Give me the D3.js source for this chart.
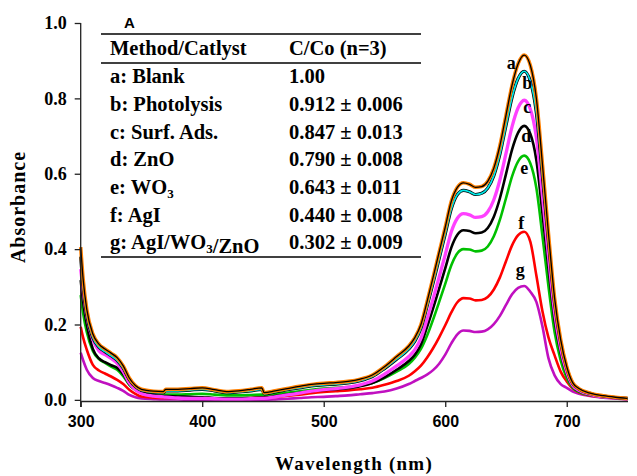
<!DOCTYPE html>
<html>
<head>
<meta charset="utf-8">
<script src="https://cdn.jsdelivr.net/npm/d3@7"></script>
<style>
  html, body { margin: 0; padding: 0; background: #fff; }
  svg { display: block; }
</style>
</head>
<body>
<svg id="chart" width="637" height="476"></svg>
<script>
// ---------------- DATA ----------------
const wavelengths = [300,302,305,310,315,320,325,330,335,340,
  345,350,360,368,370,380,390,400,410,420,
  430,440,449,451,460,470,480,490,500,510,
  520,530,540,550,560,570,575,580,585,590,
  595,600,605,610,615,620,625,630,635,640,
  645,650,655,660,665,670,675,680,685,690,
  695,700,705,710,720,730,740,750];

const seriesA = [0.405,0.32,0.24,0.175,0.148,0.135,0.124,0.112,0.09,0.058,
  0.038,0.028,0.023,0.022,0.028,0.028,0.03,0.032,0.027,0.022,
  0.024,0.028,0.032,0.019,0.024,0.03,0.036,0.041,0.044,0.046,
  0.049,0.055,0.066,0.088,0.115,0.143,0.165,0.2,0.26,0.325,
  0.392,0.458,0.527,0.564,0.576,0.572,0.564,0.566,0.58,0.615,
  0.675,0.755,0.835,0.892,0.915,0.888,0.8,0.625,0.44,0.27,
  0.16,0.088,0.045,0.03,0.017,0.011,0.007,0.004];
const seriesB = [0.38,0.3,0.225,0.165,0.14,0.128,0.117,0.105,0.084,0.054,
  0.035,0.025,0.02,0.019,0.024,0.024,0.026,0.028,0.024,0.019,
  0.021,0.024,0.028,0.016,0.021,0.027,0.032,0.037,0.04,0.042,
  0.045,0.051,0.062,0.083,0.108,0.135,0.156,0.19,0.248,0.31,
  0.375,0.44,0.507,0.545,0.556,0.552,0.545,0.548,0.562,0.595,
  0.652,0.728,0.803,0.853,0.872,0.846,0.762,0.594,0.418,0.256,
  0.152,0.084,0.043,0.029,0.016,0.01,0.006,0.004];
const seriesC = [0.347,0.29,0.222,0.16,0.13,0.12,0.11,0.097,0.075,0.045,
  0.027,0.017,0.01,0.008,0.007,0.005,0.004,0.004,0.003,0.002,
  0.002,0.003,0.004,0.004,0.008,0.013,0.018,0.023,0.027,0.03,
  0.034,0.04,0.05,0.068,0.09,0.115,0.133,0.163,0.213,0.268,
  0.326,0.385,0.446,0.482,0.494,0.491,0.484,0.486,0.499,0.531,
  0.584,0.654,0.725,0.775,0.795,0.772,0.696,0.542,0.38,0.232,
  0.136,0.074,0.038,0.025,0.014,0.008,0.005,0.003];
const seriesD = [0.318,0.26,0.2,0.135,0.11,0.1,0.092,0.085,0.068,0.042,
  0.026,0.018,0.012,0.01,0.01,0.009,0.008,0.007,0.005,0.004,
  0.004,0.005,0.006,0.006,0.01,0.014,0.019,0.023,0.026,0.028,
  0.031,0.036,0.045,0.06,0.08,0.103,0.12,0.147,0.193,0.243,
  0.295,0.349,0.404,0.438,0.45,0.448,0.442,0.444,0.456,0.486,
  0.535,0.599,0.664,0.709,0.727,0.706,0.636,0.495,0.347,0.212,
  0.125,0.068,0.035,0.023,0.013,0.008,0.005,0.003];
const seriesE = [0.278,0.23,0.18,0.13,0.108,0.098,0.088,0.08,0.063,0.04,
  0.027,0.019,0.015,0.014,0.014,0.014,0.015,0.016,0.014,0.012,
  0.012,0.013,0.014,0.014,0.016,0.019,0.023,0.027,0.03,0.032,
  0.034,0.038,0.045,0.058,0.075,0.095,0.112,0.135,0.17,0.213,
  0.26,0.308,0.357,0.389,0.4,0.399,0.394,0.396,0.407,0.434,
  0.478,0.535,0.593,0.633,0.648,0.628,0.562,0.435,0.3,0.18,
  0.105,0.058,0.032,0.021,0.012,0.007,0.005,0.003];
const seriesF = [0.194,0.165,0.133,0.093,0.078,0.07,0.062,0.053,0.042,0.027,
  0.016,0.009,0.006,0.005,0.005,0.005,0.005,0.005,0.004,0.004,
  0.004,0.005,0.006,0.006,0.008,0.011,0.014,0.018,0.021,0.023,
  0.025,0.028,0.032,0.04,0.05,0.064,0.076,0.091,0.112,0.137,
  0.166,0.198,0.232,0.259,0.27,0.269,0.264,0.265,0.273,0.293,
  0.325,0.368,0.41,0.437,0.446,0.42,0.33,0.235,0.165,0.118,
  0.075,0.049,0.03,0.02,0.011,0.007,0.004,0.002];
const seriesG = [0.125,0.105,0.08,0.058,0.05,0.045,0.039,0.032,0.024,0.013,
  0.007,0.004,0.002,0.001,0.001,0.001,0.0,0.0,-0.001,-0.001,
  -0.001,0.0,0.0,0.0,0.001,0.003,0.005,0.007,0.008,0.01,
  0.012,0.015,0.018,0.022,0.03,0.042,0.05,0.058,0.067,0.079,
  0.096,0.12,0.15,0.174,0.184,0.183,0.18,0.181,0.187,0.201,
  0.223,0.252,0.28,0.297,0.302,0.287,0.26,0.195,0.11,0.065,
  0.042,0.032,0.022,0.016,0.01,0.006,0.004,0.002];

const seriesKeys = ["a","b","c","d","e","f","g"];
const peakWavelength = 665;

const tableMethods = ["a: Blank","b: Photolysis","c: Surf. Ads.","d: ZnO","e: WO3","f: AgI","g: AgI/WO3/ZnO"];
const tableValues = ["1.00","0.912 ± 0.006","0.847 ± 0.013","0.790 ± 0.008","0.643 ± 0.011","0.440 ± 0.008","0.302 ± 0.009"];
const tableHeader = ["Method/Catlyst","C/Co (n=3)"];

const xTicks = [300,400,500,600,700];
const yTicks = [0.0,0.2,0.4,0.6,0.8,1.0];

// ---------------- LAYOUT / STYLE ----------------
const seriesValues = [seriesA,seriesB,seriesC,seriesD,seriesE,seriesF,seriesG];
const styles = {
  a: [{c:"#ff8000", w:3.6},{c:"#000000", w:1.3}],
  b: [{c:"#000000", w:3.2},{c:"#00e8e8", w:1.7}],
  c: [{c:"#ff40ff", w:3.3}],
  d: [{c:"#000000", w:2.6}],
  e: [{c:"#00c000", w:2.6}],
  f: [{c:"#ff0000", w:2.6}],
  g: [{c:"#c010c0", w:2.6}]
};
// label offsets relative to peak point (px)
const labelOffset = {a:[-13,14], b:[3,18], c:[3,13], d:[2,16], e:[0,18], f:[-3,-3], g:[-4,-10]};

const svg = d3.select("#chart");
const x = d3.scaleLinear().domain([300,750]).range([80.7,627.5]);
const y = d3.scaleLinear().domain([-0.003,1.0]).range([401,23]);

const serif = "'Liberation Serif','Times New Roman',serif";
const sans = "'Liberation Sans',Arial,sans-serif";

// curves
const line = d3.line().x(d=>x(d[0])).y(d=>y(d[1])).curve(d3.curveMonotoneX);
const drawOrder = [6,5,4,3,2,1,0];
drawOrder.forEach(i => {
  const key = seriesKeys[i];
  const pts = wavelengths.map((w,j)=>[w, seriesValues[i][j]]);
  styles[key].forEach(s => {
    svg.append("path").datum(pts)
      .attr("d", line)
      .attr("fill","none")
      .attr("stroke", s.c)
      .attr("stroke-width", s.w)
      .attr("stroke-linejoin","round");
  });
});

// axes
const xAxis = d3.axisBottom(x).tickValues(xTicks).tickSize(6).tickSizeOuter(0).tickFormat(d3.format("d"));
const gx = svg.append("g").attr("transform","translate(0,401)").call(xAxis);
gx.selectAll("path,line").attr("stroke","#222").attr("stroke-width",1.3);
gx.selectAll("text").attr("font-family",sans).attr("font-weight","bold").attr("font-size","16px").attr("fill","#000").attr("dy","1.05em");

const yAxis = d3.axisLeft(y).tickValues(yTicks).tickSize(6).tickSizeOuter(0).tickFormat(d3.format(".1f"));
const gy = svg.append("g").attr("transform","translate(80.7,0)").call(yAxis);
gy.select(".domain").attr("d","M0,23V407");
gy.selectAll("path,line").attr("stroke","#222").attr("stroke-width",1.3);
gy.selectAll("text").attr("font-family",serif).attr("font-weight","bold").attr("font-size","18px").attr("fill","#000").attr("x",-14);

// axis titles
svg.append("text").attr("x",354).attr("y",470).attr("text-anchor","middle")
  .attr("font-family",serif).attr("font-weight","bold").attr("font-size","19px")
  .attr("letter-spacing","1.2px").text("Wavelength (nm)");
svg.append("text").attr("transform","translate(25,207) rotate(-90)").attr("text-anchor","middle")
  .attr("font-family",serif).attr("font-weight","bold").attr("font-size","20px")
  .attr("letter-spacing","1px").text("Absorbance");

// peak labels
const peakIdx = wavelengths.indexOf(peakWavelength);
seriesKeys.forEach((k,i) => {
  const off = labelOffset[k];
  svg.append("text")
    .attr("x", x(peakWavelength) + off[0])
    .attr("y", y(seriesValues[i][peakIdx]) + off[1])
    .attr("text-anchor","middle")
    .attr("font-family",serif).attr("font-weight","bold").attr("font-size","18px")
    .text(k);
});

// table
svg.append("text").attr("x",124).attr("y",28).attr("font-family",sans).attr("font-weight","bold").attr("font-size","15px").text("A");
const tbl = svg.append("g");
[34,63,257].forEach(yy => tbl.append("line").attr("x1",101).attr("x2",421).attr("y1",yy).attr("y2",yy).attr("stroke","#000").attr("stroke-width",1.4));
const col1 = 110, col2 = 289;
function addRich(g, xx, yy, str){
  const t = g.append("text").attr("x",xx).attr("y",yy).attr("font-family",serif).attr("font-weight","bold").attr("font-size","20.5px");
  const re = /WO3/g;
  let m, last = 0;
  while ((m = re.exec(str)) !== null) {
    t.append("tspan").text(str.slice(last, m.index + 2));
    t.append("tspan").attr("font-size","13px").attr("dy",3.5).text("3");
    t.append("tspan").attr("dy",-3.5).text("");
    last = m.index + 3;
  }
  t.append("tspan").text(str.slice(last));
  return t;
}
addRich(tbl, col1, 55, tableHeader[0]);
addRich(tbl, col2, 55, tableHeader[1]);
const rowBase = [83,111,138.5,166,194,221.5,249];
tableMethods.forEach((m,i) => {
  addRich(tbl, col1, rowBase[i], m);
  addRich(tbl, col2, rowBase[i], tableValues[i]);
});
</script>
</body>
</html>
